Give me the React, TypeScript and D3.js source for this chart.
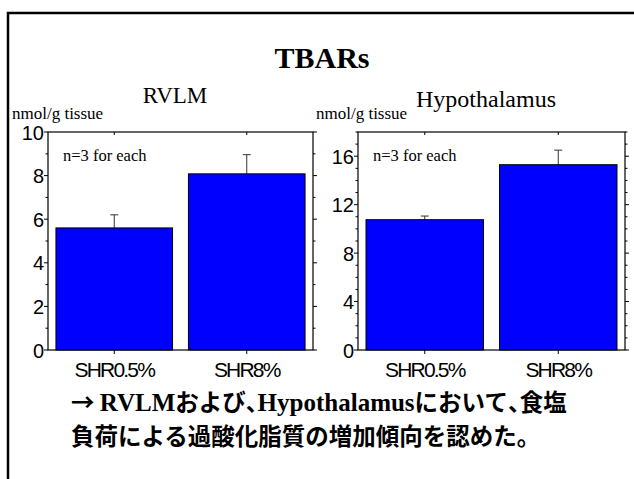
import React from "react";
import * as d3 from "d3";

const categories = ["SHR0.5%", "SHR8%"];
const rvlmValues = [5.6, 8.08];
const rvlmErrors = [0.6, 0.88];
const hypoValues = [10.76, 15.3];
const hypoErrors = [0.3, 1.2];
const rvlmTicks = [0, 2, 4, 6, 8, 10];
const hypoTicks = [0, 4, 8, 12, 16];

const W = 634;
const H = 479;

type PanelProps = {
  x0: number;
  x1: number;
  yTop: number;
  yBot: number;
  max: number;
  values: number[];
  errors: number[];
  ticks: number[];
  minorStep: number;
};

function Panel({ x0, x1, yTop, yBot, max, values, errors, ticks, minorStep }: PanelProps) {
  const x = d3.scaleBand<string>().domain(categories).range([x0, x1]).paddingInner(0.12).paddingOuter(0.06);
  const y = d3.scaleLinear().domain([0, max]).range([yBot, yTop]);
  const minor = d3.range(0, max + 0.001, minorStep).filter((v) => !ticks.includes(v));
  return (
    <g>
      {categories.map((c, i) => {
        const bx = x(c)!;
        const bw = x.bandwidth();
        const cx = bx + bw / 2;
        return (
          <g key={c}>
            <line x1={cx} x2={cx} y1={y(values[i])} y2={y(values[i] + errors[i])} stroke="#333" strokeWidth={1} />
            <line x1={cx - 4} x2={cx + 4} y1={y(values[i] + errors[i])} y2={y(values[i] + errors[i])} stroke="#333" strokeWidth={1} />
            <rect x={bx} y={y(values[i])} width={bw} height={yBot - y(values[i])} fill="#0000FF" stroke="#000" strokeWidth={1} />
            <line x1={cx} x2={cx} y1={yBot} y2={yBot + 4} stroke="#000" />
            <line x1={cx} x2={cx} y1={yTop} y2={yTop + 3} stroke="#000" />
            <text x={cx} y={yBot + 27} textAnchor="middle" fontFamily="Liberation Sans, Arial, sans-serif" fontSize={21} letterSpacing={-1.8} fill="#000">
              {c}
            </text>
          </g>
        );
      })}
      <rect x={x0} y={yTop} width={x1 - x0} height={yBot - yTop} fill="none" stroke="#000" strokeWidth={1.2} />
      {ticks.map((t) => (
        <g key={"t" + t}>
          <line x1={x0 - 4} x2={x0} y1={y(t)} y2={y(t)} stroke="#000" />
          <line x1={x1} x2={x1 + 4} y1={y(t)} y2={y(t)} stroke="#000" />
          <text x={x0 - 4} y={y(t) + 7.5} textAnchor="end" fontFamily="Liberation Sans, Arial, sans-serif" fontSize={20} fill="#000">
            {t}
          </text>
        </g>
      ))}
      {minor.map((t) => (
        <g key={"m" + t}>
          <line x1={x0 - 2.5} x2={x0} y1={y(t)} y2={y(t)} stroke="#000" />
          <line x1={x1} x2={x1 + 2.5} y1={y(t)} y2={y(t)} stroke="#000" />
        </g>
      ))}
      <text x={x0 + 15} y={yTop + 29} fontFamily="Liberation Serif, Times New Roman, serif" fontSize={16.5} fill="#000">
        n=3 for each
      </text>
    </g>
  );
}

const jp = "'Noto Sans CJK JP', sans-serif";
const serif = "Liberation Serif, Times New Roman, serif";

export default function App() {
  return (
    <svg width={W} height={H} style={{ position: "absolute", left: 0, top: 0, background: "#fff" }}>
      <rect x={0} y={0} width={W} height={H} fill="#fff" />
      <path d={`M8,${H + 5} L8,13 L${W + 5},13`} fill="none" stroke="#000" strokeWidth={2.5} />
      <text x={322} y={68} textAnchor="middle" fontFamily={serif} fontWeight="bold" fontSize={30} fill="#000">
        TBARs
      </text>
      <text x={175} y={103} textAnchor="middle" fontFamily={serif} fontSize={23} fill="#000">
        RVLM
      </text>
      <text x={486} y={107} textAnchor="middle" fontFamily={serif} fontSize={24} fill="#000">
        Hypothalamus
      </text>
      <text x={12} y={119} fontFamily={serif} fontSize={17} fill="#000">
        nmol/g tissue
      </text>
      <text x={316} y={119} fontFamily={serif} fontSize={17} fill="#000">
        nmol/g tissue
      </text>
      <Panel x0={48} x1={313} yTop={132} yBot={350} max={10} values={rvlmValues} errors={rvlmErrors} ticks={rvlmTicks} minorStep={1} />
      <Panel x0={358} x1={625} yTop={132} yBot={350} max={18} values={hypoValues} errors={hypoErrors} ticks={hypoTicks} minorStep={1} />
      <text x={71} y={411} fontFamily={serif} fontWeight="bold" fontSize={25} fill="#000">
        <tspan fontFamily={jp} fontSize={23.5}>→ </tspan>
        <tspan>RVLM</tspan>
        <tspan fontFamily={jp} fontSize={23.5}>および</tspan>
        <tspan fontFamily={jp} fontSize={23.5} style={{ fontFeatureSettings: "'halt'" }}>、</tspan>
        <tspan>Hypothalamus</tspan>
        <tspan fontFamily={jp} fontSize={23.5}>において</tspan>
        <tspan fontFamily={jp} fontSize={23.5} style={{ fontFeatureSettings: "'halt'" }}>、</tspan>
        <tspan fontFamily={jp} fontSize={23.5}>食塩</tspan>
      </text>
      <text x={71} y={445} fontFamily={jp} fontWeight="bold" fontSize={23.5} fill="#000">
        負荷による過酸化脂質の増加傾向を認めた。
      </text>
    </svg>
  );
}
